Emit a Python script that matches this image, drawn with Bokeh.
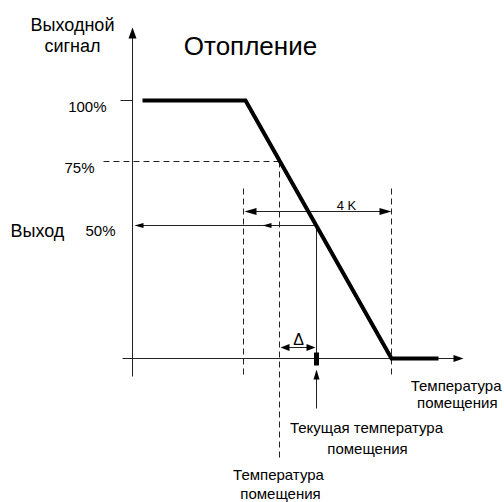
from bokeh.plotting import figure
from bokeh.models import Range1d
from bokeh.embed import file_html
from bokeh.resources import INLINE
from bokeh.core.properties import value

FONT = "Liberation Sans"

# Schematic coordinate system (page pixels)
axis_x0 = 132          # position of the output axis
axis_y0 = 358          # position of the temperature axis

# Output levels
level_labels = ["100%", "75%", "50%"]
level_y = [100, 161, 225]

# Heating characteristic (temperature, output)
curve_x = [142, 245, 391, 438]
curve_y = [100, 100, 358, 358]

# Reference temperatures
t_band_left = 243      # left edge of the 4 K band
t_band_right = 391     # right edge of the 4 K band
t_setpoint = 279       # room temperature setpoint
t_current = 316        # current room temperature

p = figure(width=504, height=502, output_backend="svg", toolbar_location=None,
           x_range=Range1d(0, 504), y_range=Range1d(502, 0), min_border=0)
p.axis.visible = False
p.grid.visible = False
p.outline_line_color = None
p.background_fill_color = "white"
p.border_fill_color = "white"

thin = dict(line_color="#222222", line_width=1)
dash = dict(line_color="#222222", line_width=1, line_dash="6 4")

# axes
p.line([axis_x0, axis_x0], [376, 36], **thin)
p.line([122, 455], [axis_y0, axis_y0], **thin)

# tick at 100%
p.line([120, axis_x0], [level_y[0], level_y[0]], **thin)

# 75% dashed lines
p.line([103, t_setpoint], [level_y[1], level_y[1]], **dash)
p.line([t_setpoint, t_setpoint], [level_y[1], 458], **dash)

# 4K band dashed verticals
p.line([t_band_left, t_band_left], [188, 374], **dash)
p.line([t_band_right, t_band_right], [188, 374], **dash)

# 4 K double arrow
p.line([t_band_left + 8, t_band_right - 8], [211, 211], **thin)
# delta double arrow
p.line([t_setpoint + 6, t_current - 6], [347, 347], **thin)

# 50% output line from current temperature
p.line([t_current, t_current], [axis_y0, level_y[2]], **thin)
p.line([t_current, 140], [level_y[2], level_y[2]], **thin)

# current temperature up arrow
p.line([t_current, t_current], [408, 376], **thin)

# characteristic
p.line(curve_x, curve_y, line_color="black", line_width=4, line_join="miter")

# current temperature marker
p.quad(left=[t_current - 2.5], right=[t_current + 2.5], top=[352], bottom=[365],
       fill_color="black", line_color=None)

# arrowheads as triangles
def head(tx, ty, direction, length, width):
    if direction == "up":
        return [tx, tx - width / 2, tx + width / 2], [ty, ty + length, ty + length]
    if direction == "right":
        return [tx, tx - length, tx - length], [ty, ty - width / 2, ty + width / 2]
    if direction == "left":
        return [tx, tx + length, tx + length], [ty, ty - width / 2, ty + width / 2]

heads = [
    head(axis_x0, 27, "up", 11, 8),
    head(463, axis_y0, "right", 10, 7),
    head(t_band_left + 1, 211, "left", 12, 7),
    head(t_band_right, 211, "right", 12, 7),
    head(134, level_y[2], "left", 9, 5),
    head(262, level_y[2], "left", 9, 5),
    head(t_setpoint + 1, 347, "left", 9, 7),
    head(t_current - 1, 347, "right", 9, 7),
    head(t_current, 369, "up", 10, 6),
]
p.patches([h[0] for h in heads], [h[1] for h in heads], fill_color="black", line_color=None)

def txt(x, y, s, size, align="left"):
    p.text([x], [y], text=[s], text_font=value(FONT), text_font_size=f"{size}px",
           text_align=align, text_baseline="alphabetic", text_color="black")

txt(72, 24, "Выходной", 18, "center")
txt(72, 45, "сигнал", 18, "center")
txt(250, 45, "Отопление", 26, "center")
txt(106, 106, level_labels[0], 15, "right")
txt(94, 167, level_labels[1], 15, "right")
txt(115, 230, level_labels[2], 15, "right")
txt(10, 230, "Выход", 18, "left")
txt(346, 205, "4 K", 13, "center")
txt(298, 339, "Δ", 16, "center")
txt(501, 385, "Температура", 15, "right")
txt(497, 402, "помещения", 15, "right")
txt(366, 427, "Текущая температура", 15, "center")
txt(367, 448, "помещения", 15, "center")
txt(278, 474, "Температура", 15, "center")
txt(280, 493, "помещения", 15, "center")

open("out.html", "w").write(file_html(p, INLINE))
